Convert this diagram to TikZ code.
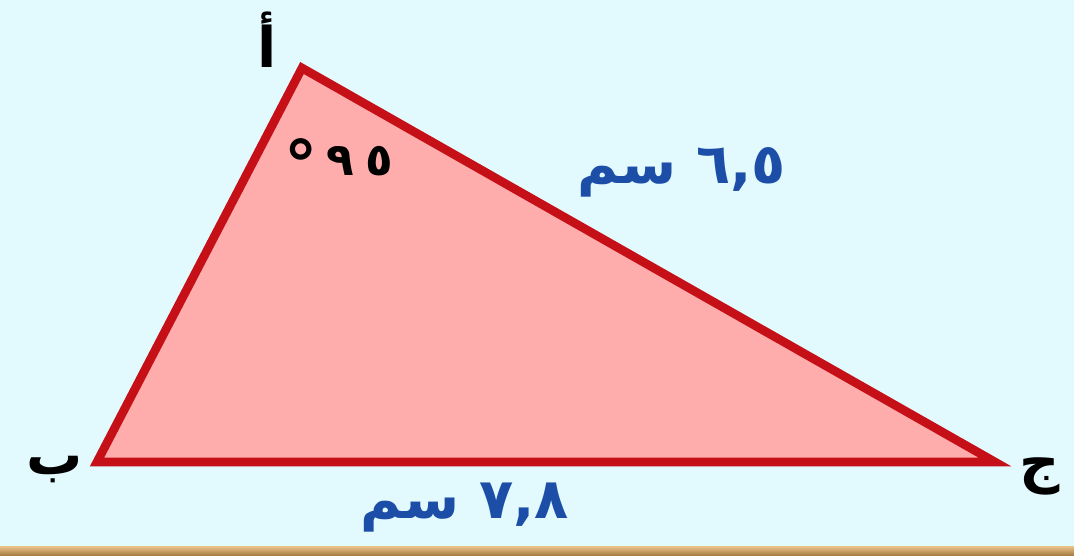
\documentclass[tikz,border=0pt]{standalone}
\usepackage{fontspec}
\TeXXeTstate=1
\newfontfamily\arabicfont[Script=Arabic]{DejaVu Sans}
\newfontfamily\arabicbold[Script=Arabic]{DejaVu Sans Bold}
\definecolor{bgcyan}{RGB}{226,249,253}
\definecolor{trifill}{RGB}{255,172,172}
\definecolor{triedge}{RGB}{196,16,22}
\definecolor{lenblue}{RGB}{28,78,168}
\definecolor{bandtop}{RGB}{236,196,140}
\definecolor{bandbot}{RGB}{160,120,60}
\tikzset{
  vlabel/.style={font=\arabicbold\fontsize{42}{42}\selectfont, text=black, inner sep=0pt},
  lenlabel/.style={font=\arabicbold\fontsize{42}{42}\selectfont, text=lenblue, inner sep=0pt},
  anglelabel/.style={font=\arabicbold\fontsize{34}{34}\selectfont, text=black, inner sep=0pt},
  tri/.style={draw=triedge, fill=trifill, line width=6.5pt, line join=miter}
}
\begin{document}
\begin{tikzpicture}[x=0.75pt,y=-0.75pt]
\fill[bgcyan] (0,0) rectangle (1074,556);
\useasboundingbox (0,0) rectangle (1074,556);
\shade[top color=bandtop, bottom color=bandbot] (0,546) rectangle (1074,556);
\coordinate (A) at (302,68);
\coordinate (B) at (97,462);
\coordinate (C) at (995,462);
\draw[tri] (A) -- (B) -- (C) -- cycle;
\node[vlabel] (la) at (267,40) {\beginR أ\endR};
\node[vlabel] (lb) at (55,470) {\beginR ب\endR};
\node[vlabel] (lc) at (1040,476) {\beginR ج\endR};
\node[anglelabel] (ang) at (339,164) {\hbox{\raisebox{-0.3em}{\fontsize{50}{50}\selectfont °}}\hbox{\kern0.2em\beginL ٩\endL\kern0.25em\beginL ٥\endL}};
\node[lenlabel] (ac) at (682,172) {\beginR\beginL ٦,٥\endL{} سم\endR};
\node[lenlabel] (bc) at (465,508) {\beginR\beginL ٧,٨\endL{} سم\endR};
\end{tikzpicture}
\end{document}
